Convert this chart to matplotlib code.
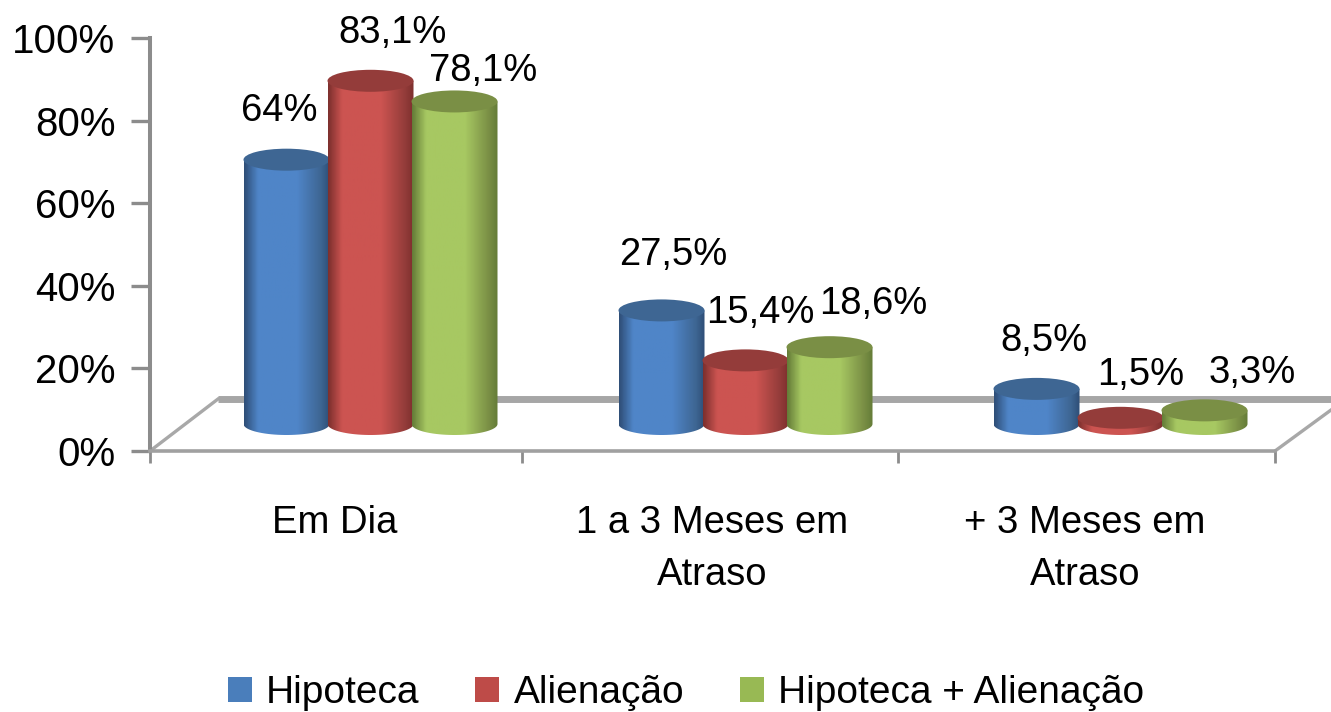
import numpy as np
import matplotlib
matplotlib.use("Agg")
import matplotlib.pyplot as plt
from matplotlib.colors import LinearSegmentedColormap
from matplotlib.patches import Ellipse, PathPatch, Patch
from matplotlib.path import Path

categories = ["Em Dia", "1 a 3 Meses em\nAtraso", "+ 3 Meses em\nAtraso"]
series_names = ["Hipoteca", "Alienação", "Hipoteca + Alienação"]
hipoteca = [64, 27.5, 8.5]
alienacao = [83.1, 15.4, 1.5]
hipo_alien = [78.1, 18.6, 3.3]
hipoteca_labels = ["64%", "27,5%", "8,5%"]
alienacao_labels = ["83,1%", "15,4%", "1,5%"]
hipo_alien_labels = ["78,1%", "18,6%", "3,3%"]
y_ticks = [0, 20, 40, 60, 80, 100]

# styles
W, H = 1331, 712
FONT = "Liberation Sans"
GRAY = "#8c8c8c"
main_colors = ["#4F85C8", "#CC5451", "#A7C862"]
edge_colors = ["#2F4F78", "#7E302E", "#657D38"]
top_colors = ["#3E6693", "#943C3A", "#7A8F45"]
legend_colors = ["#4A7EBB", "#BE4B48", "#98B954"]
label_offsets = [
    [(-7, 49), (12, 55), (7, 48)],
    [(22, 48), (15, 47), (20, 43)],
    [(29, 30), (44, 43), (48, 37)],
]

plt.rcParams["font.family"] = [FONT, "DejaVu Sans"]
fig = plt.figure(figsize=(W / 100, H / 100), dpi=100)
L, R, B, T = 150, 1275, 451, 38
ax = fig.add_axes([L / W, 1 - B / H, (R - L) / W, (B - T) / H])

PX = 3 / (R - L)          # x data units per pixel
PY = 100 / (B - T)        # y data units per pixel
bar_w = 86 * PX
step = 84 * PX
x_shift = 33 * PX
y_shift = 27 * PY
ry = 11 * PY


def cylinder(xc, v, i):
    base, top = y_shift, y_shift + v
    rx = bar_w / 2
    t = np.linspace(np.pi, 2 * np.pi, 40)
    bx = xc + rx * np.cos(t)
    by = base + ry * np.sin(t)
    verts = np.column_stack([
        np.r_[bx, xc + rx, xc - rx, bx[0]],
        np.r_[by, top, top, by[0]],
    ])
    path = Path(verts)
    cmap = LinearSegmentedColormap.from_list(
        "c", [(0, edge_colors[i]), (0.16, main_colors[i]), (0.62, main_colors[i]),
              (0.9, top_colors[i]), (1, edge_colors[i])])
    im = ax.imshow(np.linspace(0, 1, 64)[None, :], cmap=cmap, aspect="auto",
                   extent=[xc - rx, xc + rx, base - ry, top], zorder=3 + i, origin="lower")
    patch = PathPatch(path, transform=ax.transData, fc="none", ec="none", zorder=3 + i)
    ax.add_patch(patch)
    im.set_clip_path(patch)
    ax.add_patch(Ellipse((xc, top), bar_w, 2 * ry, fc=top_colors[i], ec="none", zorder=3 + i))


# floor
floor_y = 52 * PY
floor_dx = 68 * PX
ax.plot([-0.5, -0.5 + floor_dx], [0, floor_y], color="#a8a8a8", lw=2.4, zorder=1, clip_on=False)
ax.plot([-0.5 + floor_dx, 2.5 + 56 * PX], [floor_y, floor_y], color="#a6a6a6", lw=5,
        zorder=1, clip_on=False, solid_capstyle="butt")
ax.plot([2.5, 2.5 + 56 * PX], [0, 41 * PY], color="#a8a8a8", lw=2.4, zorder=1, clip_on=False)

all_vals = [hipoteca, alienacao, hipo_alien]
all_labels = [hipoteca_labels, alienacao_labels, hipo_alien_labels]
for i, (vals, labs) in enumerate(zip(all_vals, all_labels)):
    for c, (v, lab) in enumerate(zip(vals, labs)):
        xc = c + x_shift + (i - 1) * step
        cylinder(xc, v, i)
        ax.annotate(lab, (xc, y_shift + v), xytext=label_offsets[i][c], textcoords="offset pixels",
                    ha="center", va="center", fontsize=27.5, color="black", zorder=10,
                    annotation_clip=False)

ax.set_xlim(-0.5, 2.5)
ax.set_ylim(0, 100)
for s in ("top", "right"):
    ax.spines[s].set_visible(False)
ax.spines["left"].set_color(GRAY)
ax.spines["left"].set_linewidth(2.9)
ax.spines["bottom"].set_color("#a0a0a0")
ax.spines["bottom"].set_linewidth(2.6)
ax.patch.set_alpha(0)

ax.set_yticks(y_ticks)
ax.set_yticklabels([f"{t}%" for t in y_ticks], fontsize=29)
ax.tick_params(axis="y", length=13.5, width=2.4, color=GRAY, pad=11.5)
ax.set_xticks([-0.5, 0.492, 1.495, 2.5])
ax.set_xticklabels([])
ax.tick_params(axis="x", which="major", length=8.6, width=2, color=GRAY)
ax.set_xticks([-0.007, 1, 1.993], minor=True)
ax.set_xticklabels(categories, minor=True, fontsize=27.5, linespacing=1.57)
ax.tick_params(axis="x", which="minor", length=0, pad=39)

handles = [Patch(fc=c, ec="none") for c in legend_colors]
fig.legend(handles, series_names, loc="center", bbox_to_anchor=(686 / W, 1 - 693 / H),
           ncol=3, frameon=False, fontsize=28, handlelength=0.62, handleheight=0.62,
           handletextpad=0.36, columnspacing=1.44, borderpad=0, borderaxespad=0)

fig.savefig("out.png", dpi=100)
